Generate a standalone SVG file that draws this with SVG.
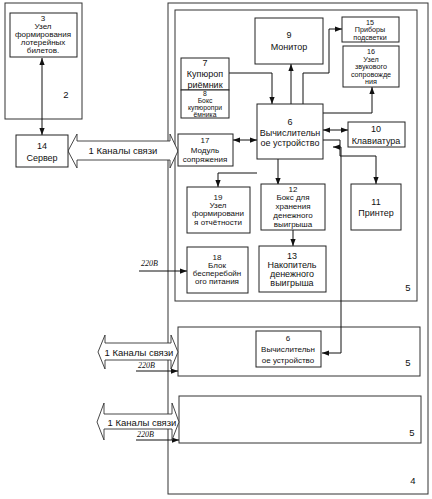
<svg xmlns="http://www.w3.org/2000/svg" width="432" height="499" viewBox="0 0 432 499">
<defs>
<marker id="ah" viewBox="0 0 8 6" refX="8" refY="3" markerWidth="7" markerHeight="5.5" markerUnits="userSpaceOnUse" orient="auto-start-reverse">
<path d="M0,0 L8,3 L0,6 z" fill="#111"/>
</marker>
<style>
rect{fill:#fff;stroke:#222;stroke-width:1}
.frame{fill:none;stroke:#333;stroke-width:1}
text{font-family:"Liberation Sans",Arial,sans-serif;font-size:9px;fill:#111;text-anchor:middle}
.sm{font-size:6.8px}
.s8{font-size:8px}
.s75{font-size:7.2px}
.lbl{font-size:9.5px}
.v{font-family:"Liberation Serif","Times New Roman",serif;font-style:italic;font-size:8px;text-anchor:start}
.c{fill:none;stroke:#111;stroke-width:1}
.big{fill:#fff;stroke:#333;stroke-width:0.9}
</style>
</defs>

<g id="frame2"><rect class="frame" x="5" y="3" width="77" height="116"/><text x="66" y="98" class="lbl">2</text></g>
<g id="frame4"><rect class="frame" x="168" y="3" width="260" height="491"/><text x="413" y="484" class="lbl">4</text></g>
<g id="frame5a"><rect class="frame" x="175" y="10" width="242" height="291"/><text x="408" y="291" class="lbl">5</text></g>
<g id="frame5b"><rect class="frame" x="178" y="327" width="242" height="49"/><text x="408" y="366" class="lbl">5</text></g>
<g id="frame5c"><rect class="frame" x="179" y="396" width="242" height="47"/><text x="412" y="436" class="lbl">5</text></g>

<g id="connectors">
<line class="c" x1="42" y1="58" x2="42" y2="135" marker-start="url(#ah)" marker-end="url(#ah)"/>
<polyline class="c" points="229,73 272,73 272,104" marker-end="url(#ah)"/>
<line class="c" x1="291" y1="104" x2="291" y2="64" marker-end="url(#ah)"/>
<polyline class="c" points="303,104 303,73 329,73 329,29 342,29" marker-end="url(#ah)"/>
<polyline class="c" points="323,113 372,113 372,87" marker-end="url(#ah)"/>
<line class="c" x1="323" y1="130" x2="348" y2="130" marker-start="url(#ah)" marker-end="url(#ah)"/>
<line class="c" x1="233" y1="140" x2="257" y2="140" marker-start="url(#ah)" marker-end="url(#ah)"/>
<polyline class="c" points="323,140 340,140 340,156 376,156 376,184" marker-end="url(#ah)"/>
<polyline class="c" points="341,147 341,353 322,353" marker-end="url(#ah)"/>
<line class="c" x1="341" y1="147" x2="333" y2="147" marker-end="url(#ah)"/>
<polyline class="c" points="257,173 218,173 218,187" marker-end="url(#ah)"/>
<line class="c" x1="278" y1="159" x2="278" y2="185" marker-end="url(#ah)"/>
<line class="c" x1="293" y1="230" x2="293" y2="246" marker-end="url(#ah)"/>
<line class="c" x1="139" y1="271" x2="187" y2="271" marker-end="url(#ah)"/>
<text x="141" y="266" class="v">220В</text>
<line class="c" x1="136" y1="371" x2="178" y2="371" marker-end="url(#ah)"/>
<text x="138" y="368" class="v">220В</text>
<line class="c" x1="136" y1="440" x2="179" y2="440" marker-end="url(#ah)"/>
<text x="137" y="437" class="v">220В</text>
</g>

<g id="channel1">
<polygon class="big" points="68,151 77,134 77,141 170,141 170,134 178,151 170,168 170,160 77,160 77,168"/>
<text x="123" y="154" class="lbl">1 Каналы связи</text>
</g>
<g id="channel2">
<polygon class="big" points="98,352 105,335 105,343 171,343 171,335 178,352 171,369 171,360 105,360 105,369"/>
<text x="139" y="356" class="lbl">1 Каналы связи</text>
</g>
<g id="channel3">
<polygon class="big" points="97,422 104,403 104,414 172,414 172,403 179,422 172,440 172,429 104,429 104,440"/>
<text x="142" y="426" class="lbl">1 Каналы связи</text>
</g>

<g id="n3"><rect x="10" y="13" width="67" height="44"/>
<text x="43" y="21" class="s8">3</text><text x="43" y="29" class="s8">Узел</text><text x="43" y="37" class="s8">формирования</text><text x="43" y="45" class="s8">лотерейных</text><text x="43" y="53" class="s8">билетов.</text></g>

<g id="n14"><rect x="16" y="135" width="52" height="32"/>
<text x="42" y="149">14</text><text x="42" y="161">Сервер</text></g>

<g id="n9"><rect x="255" y="18" width="68" height="46"/>
<text x="289" y="38">9</text><text x="289" y="50">Монитор</text></g>

<g id="n15"><rect x="342" y="17" width="57" height="25"/>
<text x="370" y="24.5" class="s75">15</text><text x="370" y="32" class="s75">Приборы</text><text x="370" y="39.5" class="s75">подсветки</text></g>

<g id="n16"><rect x="343" y="46" width="56" height="41"/>
<text x="371" y="54" class="s75">16</text><text x="371" y="61.5" class="s75">Узел</text><text x="371" y="69" class="s75">звукового</text><text x="371" y="76.5" class="s75">сопровожде</text><text x="371" y="84" class="s75">ния</text></g>

<g id="n7"><rect x="181" y="58" width="48" height="32"/>
<text x="205" y="66">7</text><text x="205" y="77">Купюроп</text><text x="205" y="88">риёмник</text></g>

<g id="n8"><rect x="181" y="90" width="48" height="28"/>
<text x="205" y="96" class="sm">8</text><text x="205" y="103" class="sm">Бокс</text><text x="205" y="110" class="sm">купюропри</text><text x="205" y="117" class="sm">ёмника</text></g>

<g id="n6"><rect x="257" y="104" width="66" height="55"/>
<text x="290" y="125">6</text><text x="290" y="136">Вычислительн</text><text x="290" y="146">ое устройство</text></g>

<g id="n10"><rect x="348" y="122" width="57" height="25"/>
<text x="376" y="132">10</text><text x="376" y="144">Клавиатура</text></g>

<g id="n17"><rect x="178" y="134" width="55" height="32"/>
<text x="205" y="143" class="s8">17</text><text x="205" y="153" class="s8">Модуль</text><text x="205" y="162" class="s8">сопряжения</text></g>

<g id="n11"><rect x="351" y="184" width="50" height="46"/>
<text x="376" y="205">11</text><text x="376" y="216">Принтер</text></g>

<g id="n19"><rect x="187" y="187" width="63" height="46"/>
<text x="218" y="200" class="s8">19</text><text x="218" y="208" class="s8">Узел</text><text x="218" y="216" class="s8">формировани</text><text x="218" y="225" class="s8">я отчётности</text></g>

<g id="n12"><rect x="261" y="184" width="64" height="46"/>
<text x="293" y="191.5" class="s8">12</text><text x="293" y="200" class="s8">Бокс для</text><text x="293" y="209" class="s8">хранения</text><text x="293" y="218" class="s8">денежного</text><text x="293" y="227" class="s8">выигрыша</text></g>

<g id="n13"><rect x="259" y="246" width="67" height="46"/>
<text x="292" y="259">13</text><text x="292" y="268">Накопитель</text><text x="292" y="277">денежного</text><text x="292" y="286">выигрыша</text></g>

<g id="n18"><rect x="187" y="247" width="61" height="46"/>
<text x="217" y="260" class="s8">18</text><text x="217" y="268" class="s8">Блок</text><text x="217" y="276" class="s8">бесперебойн</text><text x="217" y="284" class="s8">ого питания</text></g>

<g id="n6b"><rect x="256" y="331" width="65" height="36"/>
<text x="288" y="341" class="s8">6</text><text x="288" y="352" class="s8">Вычислительн</text><text x="288" y="363" class="s8">ое устройство</text></g>
</svg>
